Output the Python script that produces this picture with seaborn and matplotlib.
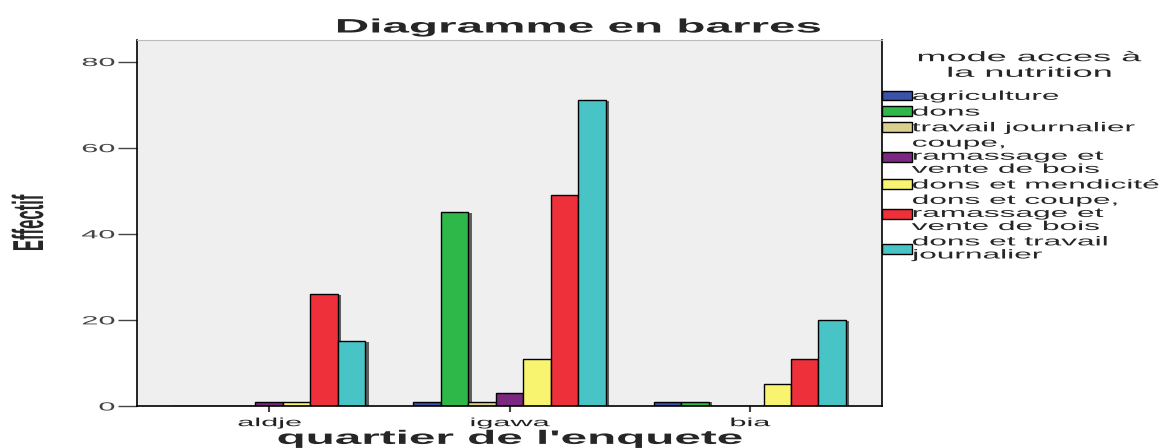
import numpy as np
import pandas as pd
import seaborn as sns
import matplotlib.pyplot as plt
from matplotlib.patheffects import AbstractPathEffect, SimplePatchShadow, Normal
from matplotlib.transforms import Affine2D


class Stretch(AbstractPathEffect):
	""" widen text glyphs (the reference picture is stretched horizontally) """
	def __init__(self, sx=1.0, sy=1.0, anchor='center'):
		super().__init__()
		self.sx = sx
		self.sy = sy
		self.anchor = anchor

	def draw_path(self, renderer, gc, tpath, affine, rgbFace=None):
		v = tpath.vertices
		if len(v) == 0:
			return
		if self.anchor == 'left':
			cx = v[:, 0].min()
		elif self.anchor == 'right':
			cx = v[:, 0].max()
		else:
			cx = (v[:, 0].min() + v[:, 0].max()) / 2
		cy = (v[:, 1].min() + v[:, 1].max()) / 2
		pre = Affine2D().translate(-cx, -cy).scale(self.sx, self.sy).translate(cx, cy)
		renderer.draw_path(gc, tpath, pre + affine, rgbFace)


""" data """
Quartiers = ['aldje', 'igawa', 'bia']
Modes = ['agriculture', 'dons', 'travail journalier',
		 'coupe, ramassage et vente de bois', 'dons et mendicité',
		 'dons et coupe, ramassage et vente de bois', 'dons et travail journalier']
LegendLabels = ['agriculture', 'dons', 'travail journalier',
				'coupe,\nramassage et\nvente de bois', 'dons et mendicité',
				'dons et coupe,\nramassage et\nvente de bois', 'dons et travail\njournalier']

Effectif_aldje = [0, 0, 0, 1, 1, 26, 15]
Effectif_igawa = [1, 45, 1, 3, 11, 49, 71]
Effectif_bia = [1, 1, 0, 0, 5, 11, 20]

Colors = ['#3a52a8', '#2fb84a', '#d8d08c', '#7a2880', '#f8f470', '#ee303a', '#48c4c6']

rows = []
for q, vals in zip(Quartiers, [Effectif_aldje, Effectif_igawa, Effectif_bia]):
	for m, v in zip(Modes, vals):
		rows.append({'quartier': q, 'mode': m, 'effectif': v})
Data = pd.DataFrame(rows)


""" figure """
sns.set_style('white')
plt.rcParams['font.family'] = ['Liberation Sans', 'DejaVu Sans']

SX = 2.45
SX_TICKS = 2.6
TickColor = '#444444'

fig, ax = plt.subplots(1, 1, figsize=(11.67, 4.48), dpi=100)
fig.subplots_adjust(left=137/1167, right=882/1167, bottom=42/448, top=408/448)

sns.barplot(data=Data, x='quartier', y='effectif', hue='mode', hue_order=Modes,
			order=Quartiers, palette=Colors, saturation=1, edgecolor='black',
			linewidth=1, errorbar=None, ax=ax)

for bar in ax.patches:
	bar.set_path_effects([SimplePatchShadow(offset=(2.5, -0.5), shadow_rgbFace='#222222', alpha=0.7), Normal()])

ax.set_facecolor('#efefef')
ax.set_xlim(-0.55, 2.55)
ax.set_ylim(0, 85)
ax.set_yticks([0, 20, 40, 60, 80])

for side in ['left', 'bottom', 'right']:
	ax.spines[side].set_color('black')
	ax.spines[side].set_linewidth(1.2)
	ax.spines[side].set_visible(True)
ax.spines['top'].set_color('#bbbbbb')
ax.spines['top'].set_visible(True)

ax.tick_params(axis='y', direction='out', length=14, width=1, color=TickColor,
			   labelsize=8.5, labelcolor=TickColor, pad=2, left=True)
ax.tick_params(axis='x', direction='out', length=4, width=1.5, color=TickColor,
			   labelsize=8.5, labelcolor='#222222', pad=4, bottom=True)
for lab in ax.get_yticklabels():
	lab.set_path_effects([Stretch(SX_TICKS, 1, 'right')])
for lab in ax.get_xticklabels():
	lab.set_path_effects([Stretch(SX_TICKS, 1)])

# axis labels
ax.set_xlabel("quartier de l'enquete", fontsize=14, fontweight='bold')
ax.xaxis.set_label_coords(0.5, -0.068)
ax.xaxis.label.set_path_effects([Stretch(SX, 1)])

ax.set_ylabel('Effectif', fontsize=12, fontweight='bold')
ax.yaxis.label.set_va('center')
ax.yaxis.set_label_coords(-0.145, 0.5)
ax.yaxis.label.set_path_effects([Stretch(1, 2.6)])

fig.suptitle('Diagramme en barres', x=578/1167, y=1-28/448, va='center',
			 fontsize=14, fontweight='bold')
fig._suptitle.set_path_effects([Stretch(SX, 1)])

# legend
handles, labels = ax.get_legend_handles_labels()
leg = ax.legend(handles, LegendLabels, loc='upper left', bbox_to_anchor=(1.0, 0.862),
				frameon=False, borderaxespad=0, borderpad=0, fontsize=9.3,
				handlelength=2.3, handleheight=0.78, handletextpad=0.0,
				labelspacing=0.26)
for t in leg.get_texts():
	t.set_linespacing(1.12)
	t.set_path_effects([Stretch(SX, 1, 'left')])
for h in leg.legend_handles:
	h.set_path_effects([])

fig.text(1029/1167, 1-65/448, 'mode acces à\nla nutrition', ha='center', va='center',
		 fontsize=10, linespacing=1.15, path_effects=[Stretch(2.6, 1)])

plt.savefig('out.png', dpi=100)
